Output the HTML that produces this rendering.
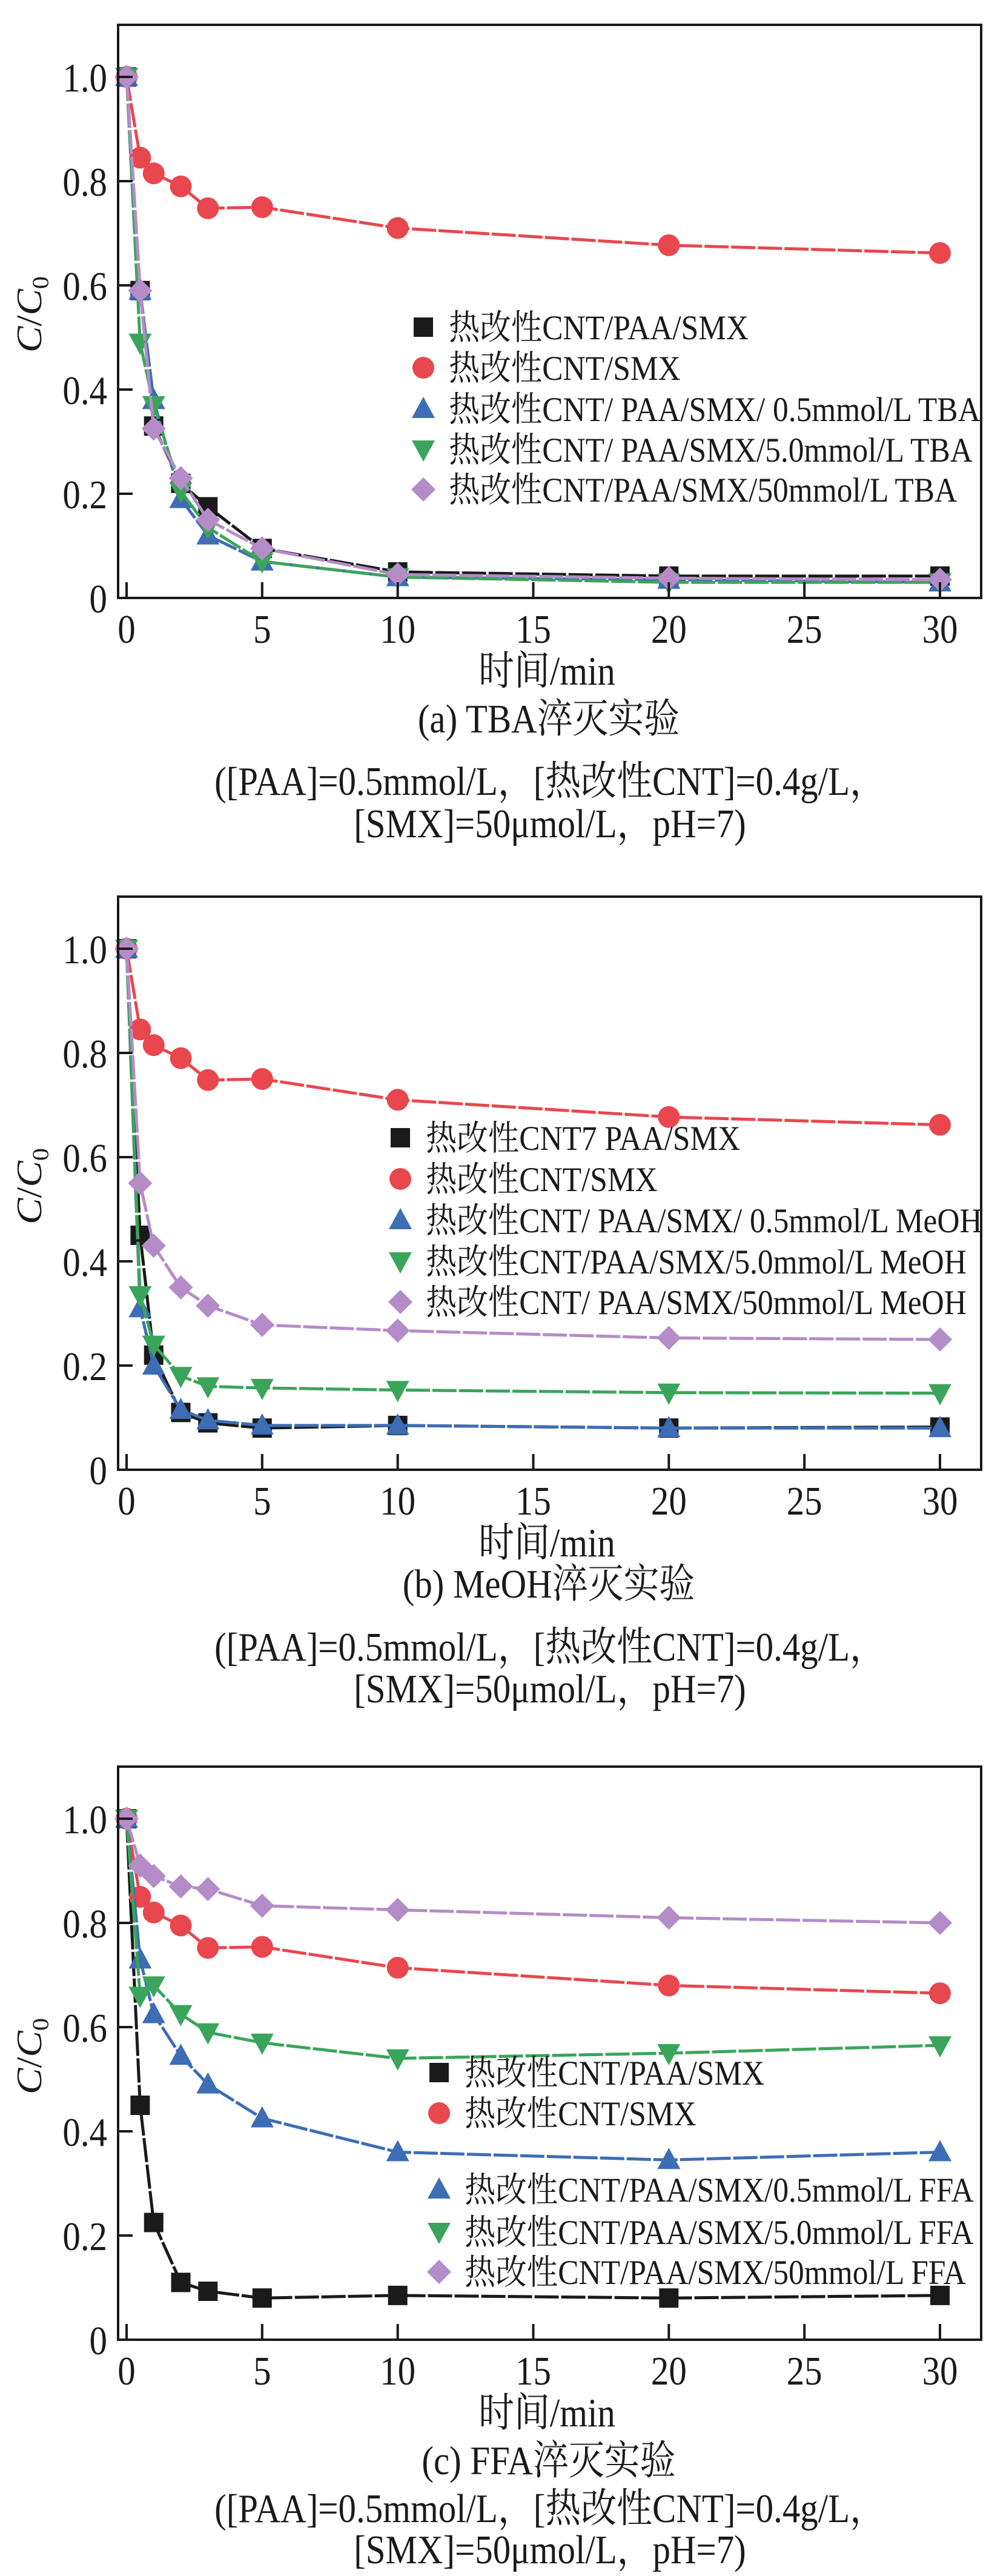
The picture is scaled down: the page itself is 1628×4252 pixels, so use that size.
<!DOCTYPE html>
<html><head><meta charset="utf-8"><style>
html,body{margin:0;padding:0;background:#fff;}
svg{display:block;}
text{font-family:"Liberation Serif","Noto Serif CJK SC","Noto Sans CJK SC",serif;fill:#1a1a1a;}
</style></head>
<body>
<svg id="fig" width="1628" height="4252" viewBox="0 0 1628 4252" xmlns="http://www.w3.org/2000/svg"></svg>
<script>
const times = [0,0.5,1,2,3,5,10,20,30];
const xTicks = [0,5,10,15,20,25,30];
const yTicks = [0,0.2,0.4,0.6,0.8,1.0];
const yTickLabels = ["0","0.2","0.4","0.6","0.8","1.0"];

const aBlack  = [1.0,0.59,0.33,0.22,0.175,0.095,0.05,0.042,0.042];
const aRed    = [1.0,0.845,0.815,0.79,0.748,0.75,0.71,0.677,0.662];
const aBlue   = [1.0,0.59,0.38,0.19,0.12,0.07,0.04,0.035,0.03];
const aGreen  = [1.0,0.49,0.37,0.205,0.135,0.07,0.04,0.03,0.03];
const aPurple = [1.0,0.59,0.325,0.23,0.15,0.095,0.045,0.038,0.035];

const bBlack  = [1.0,0.45,0.22,0.11,0.09,0.08,0.085,0.08,0.082];
const bRed    = [1.0,0.845,0.815,0.79,0.748,0.75,0.71,0.677,0.662];
const bBlue   = [1.0,0.31,0.20,0.115,0.095,0.085,0.085,0.08,0.08];
const bGreen  = [1.0,0.335,0.24,0.18,0.16,0.157,0.153,0.148,0.147];
const bPurple = [1.0,0.55,0.43,0.35,0.315,0.278,0.267,0.253,0.25];

const cBlack  = [1.0,0.45,0.225,0.11,0.093,0.08,0.085,0.08,0.085];
const cRed    = [1.0,0.85,0.82,0.795,0.752,0.754,0.714,0.68,0.665];
const cBlue   = [1.0,0.73,0.625,0.545,0.49,0.425,0.36,0.345,0.36];
const cGreen  = [1.0,0.66,0.68,0.625,0.59,0.57,0.54,0.55,0.565];
const cPurple = [1.0,0.91,0.89,0.87,0.865,0.833,0.825,0.81,0.8];

const aLabels = ["热改性CNT/PAA/SMX","热改性CNT/SMX","热改性CNT/ PAA/SMX/ 0.5mmol/L TBA","热改性CNT/ PAA/SMX/5.0mmol/L TBA","热改性CNT/PAA/SMX/50mmol/L TBA"];
const bLabels = ["热改性CNT7 PAA/SMX","热改性CNT/SMX","热改性CNT/ PAA/SMX/ 0.5mmol/L MeOH","热改性CNT/PAA/SMX/5.0mmol/L MeOH","热改性CNT/ PAA/SMX/50mmol/L MeOH"];
const cLabels = ["热改性CNT/PAA/SMX","热改性CNT/SMX","热改性CNT/PAA/SMX/0.5mmol/L FFA","热改性CNT/PAA/SMX/5.0mmol/L FFA","热改性CNT/PAA/SMX/50mmol/L FFA"];

const colors = ["#1a1a1a","#e8474d","#3d6db5","#3aa55a","#b48cc8"];
const shapes = ["square","circle","up","down","diamond"];
const NS = "http://www.w3.org/2000/svg";
const svg = document.getElementById('fig');

function el(tag, attrs, parent){
  const e = document.createElementNS(NS, tag);
  for (const k in attrs) e.setAttribute(k, attrs[k]);
  (parent||svg).appendChild(e);
  return e;
}
function txt(parent, x, y, size, anchor, sx, sy){
  return el('text',{x:0,y:0,'font-size':size,'text-anchor':anchor,transform:`translate(${x},${y}) scale(${sx},${sy})`},parent);
}
function marker(g, shape, cx, cy, color){
  let m;
  if (shape==="square") m = el('rect',{x:cx-16,y:cy-16,width:32,height:32,fill:color},g);
  else if (shape==="circle") m = el('circle',{cx:cx,cy:cy,r:18,fill:color},g);
  else if (shape==="up") m = el('polygon',{points:`${cx},${cy-20} ${cx-19},${cy+15} ${cx+19},${cy+15}`,fill:color},g);
  else if (shape==="down") m = el('polygon',{points:`${cx},${cy+20} ${cx-19},${cy-15} ${cx+19},${cy-15}`,fill:color},g);
  else m = el('polygon',{points:`${cx},${cy-20} ${cx+20},${cy} ${cx},${cy+20} ${cx-20},${cy}`,fill:color},g);
  return m;
}

function panel(id, T, series, labels, legX, legRows, caption, capY, c1Y, c2Y){
  const L=195, R=1620, B=T+946;
  const xs = v => 209 + v*(1552-209)/30;
  const ys = v => B - v*860;
  const g = el('g',{});
  
  
  series.forEach((vals,si)=>{
    const sg = el('g',{},g);
    
    
    const pts = vals.map((v,i)=>xs(times[i])+','+ys(v)).join(' ');
    const pl = el('polyline',{points:pts,fill:'none',stroke:colors[si],'stroke-width':5,'stroke-dasharray':'40 4'},sg);
    
    
    vals.forEach((v,i)=>{
      const m = marker(sg, shapes[si], xs(times[i]), ys(v), colors[si]);
      
      
    });
  });
  const fr = el('rect',{x:L,y:T,width:R-L,height:B-T,fill:'none',stroke:'#1a1a1a','stroke-width':4},g);
  
  
  xTicks.forEach(t=>{
    const x = xs(t);
    const tk = el('line',{x1:x,y1:B,x2:x,y2:B-26,stroke:'#1a1a1a','stroke-width':4},g);
    
    
    const tx = txt(g, x, T+1020, 62, 'middle', 0.95, 1.08);
    tx.textContent = String(t);
    
    
  });
  yTicks.forEach((t,i)=>{
    const y = ys(t);
    if (t>0){
      const tk = el('line',{x1:L,y1:y,x2:L+24,y2:y,stroke:'#1a1a1a','stroke-width':4},g);
      
      
    }
    const tx = txt(g, L-18, y+24, 62, 'end', 0.95, 1.08);
    tx.textContent = yTickLabels[i];
    
    
  });
  const yt = el('text',{x:0,y:0,'font-size':62,'text-anchor':'middle',transform:`translate(68,${T+478}) rotate(-90) scale(1.05,0.95)`},g);
  yt.innerHTML = '<tspan font-style="italic">C</tspan>/<tspan font-style="italic">C</tspan><tspan font-size="40" dy="12">0</tspan>';
  
  
  const xt = txt(g, 903, T+1089, 62, 'middle', 0.95, 1.08);
  xt.textContent = '时间/min';
  
  
  const cp = txt(g, 906, capY+6, 62, 'middle', 0.95, 1.08);
  cp.textContent = caption;
  
  
  const l1 = txt(g, 908, c1Y+4, 62, 'middle', 0.95, 1.08);
  l1.textContent = '([PAA]=0.5mmol/L，[热改性CNT]=0.4g/L，';
  
  
  const l2 = txt(g, 908, c2Y+4, 62, 'middle', 0.95, 1.08);
  l2.textContent = '[SMX]=50μmol/L，pH=7)';
  
  
  const lg = el('g',{},g);
  
  
  labels.forEach((lab,i)=>{
    const y = T+legRows[i];
    const m = marker(lg, shapes[i], legX, y, colors[i]);
    
    
    const t = txt(lg, legX+42, y+20, 53, 'start', 0.97, 1.08);
    t.textContent = lab;
    
    
  });
}

panel('a', 41, [aBlack,aRed,aBlue,aGreen,aPurple], aLabels, 699, [499,566,634,701,767], '(a) TBA淬灭实验', 41+1162, 41+1267, 41+1337);
panel('b', 1480, [bBlack,bRed,bBlue,bGreen,bPurple], bLabels, 661, [398,466,534,602,669], '(b) MeOH淬灭实验', 1480+1151, 1480+1257, 1480+1326);
panel('c', 2916, [cBlack,cRed,cBlue,cGreen,cPurple], cLabels, 725, [505,572,698,768,834], '(c) FFA淬灭实验', 2916+1162, 2916+1243, 2916+1311);
</script>
</body></html>
